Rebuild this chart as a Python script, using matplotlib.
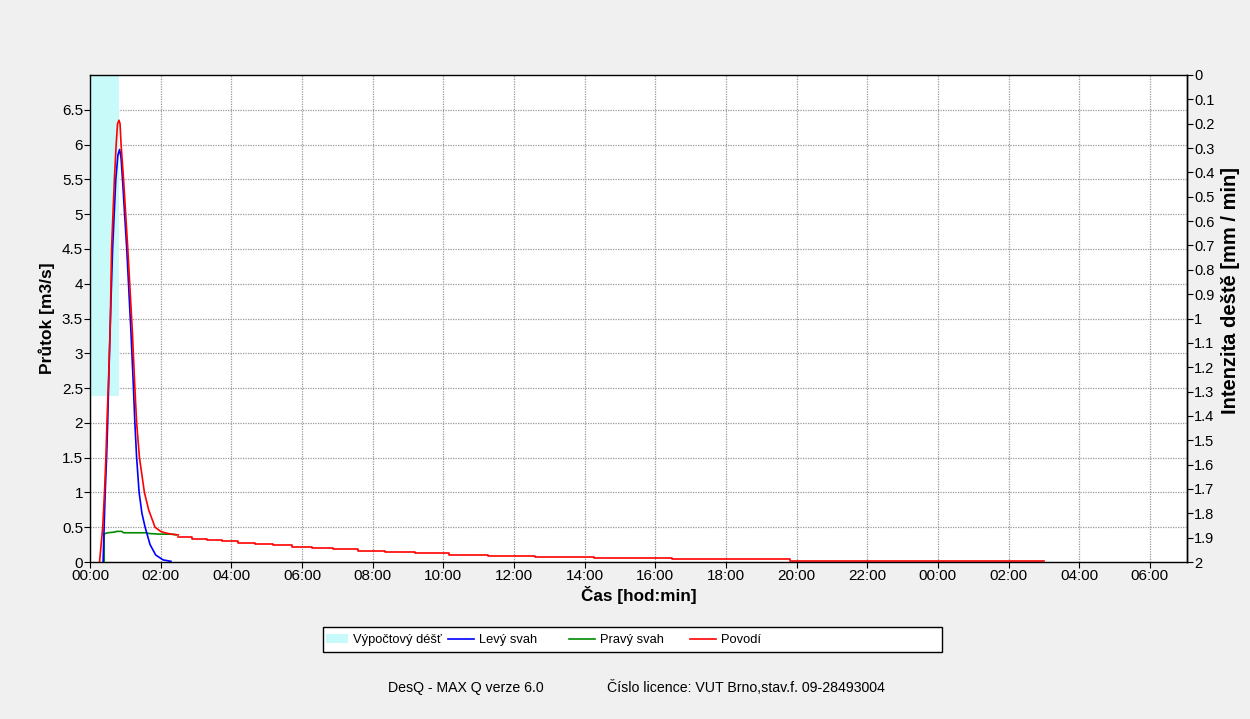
import matplotlib
matplotlib.use("Agg")
import matplotlib.pyplot as plt
from matplotlib.patches import Patch, Rectangle
from matplotlib.lines import Line2D
import numpy as np

plt.rcParams['font.family'] = ['Liberation Sans', 'DejaVu Sans']

# time in hours from 00:00
rain_t = [0.0, 0.83]
rain_i = [1.32, 1.32]          # mm/min

levy_t = [0.37, 0.40, 0.43, 0.47, 0.50, 0.53, 0.56, 0.64, 0.73, 0.79, 0.84, 0.88,
          0.92, 1.04, 1.16, 1.23, 1.27, 1.32, 1.39, 1.47, 1.56, 1.70, 1.86, 2.07, 2.29]
levy_q = [0.0, 0.5, 1.0, 1.5, 2.0, 2.6, 3.2, 4.5, 5.5, 5.85, 5.93, 5.8,
          5.5, 4.5, 3.3, 2.5, 2.0, 1.5, 1.0, 0.7, 0.5, 0.25, 0.1, 0.03, 0.01]

pravy_t = [0.40, 0.40, 0.43, 0.50, 0.70, 0.75, 0.90, 0.95, 1.60, 1.65, 2.00, 2.30, 2.45]
pravy_q = [0.0, 0.40, 0.41, 0.42, 0.43, 0.44, 0.44, 0.42, 0.42, 0.41, 0.40, 0.40, 0.39]

povodi_t = [0.27, 0.36, 0.41, 0.45, 0.48, 0.53, 0.57, 0.61, 0.69, 0.74, 0.78, 0.82,
            0.85, 0.88, 0.95, 1.07, 1.20, 1.27, 1.32, 1.40, 1.54, 1.66, 1.84, 2.00,
            2.12, 2.30, 2.50]
povodi_q = [0.0, 0.5, 1.0, 1.5, 2.0, 2.7, 3.3, 4.5, 5.5, 6.0, 6.3, 6.35,
            6.3, 6.0, 5.5, 4.5, 3.3, 2.5, 2.0, 1.5, 1.0, 0.75, 0.5, 0.44,
            0.42, 0.40, 0.39]

# stepped tail of the catchment hydrograph
tail_t = [2.50, 2.88, 3.30, 3.73, 4.20, 4.67, 5.19, 5.71, 6.27, 6.89, 7.59, 8.35,
          9.20, 10.17, 11.27, 12.60, 14.27, 16.46, 19.81, 27.0]
tail_q = [0.365, 0.335, 0.315, 0.295, 0.28, 0.26, 0.24, 0.22, 0.20, 0.18, 0.16, 0.145,
          0.128, 0.105, 0.088, 0.07, 0.054, 0.036, 0.02, 0.02]

x_ticks = list(range(0, 31, 2))
x_labels = ["%02d:00" % (h % 24) for h in x_ticks]
y_ticks = [i * 0.5 for i in range(14)]
r_ticks = [i / 10 for i in range(21)]

Q_MAX = 7.0
R_MAX = 2.0


def q_to_r(q):
    return R_MAX - np.asarray(q) * R_MAX / Q_MAX


def r_to_q(r):
    return (R_MAX - np.asarray(r)) * Q_MAX / R_MAX


fig = plt.figure(figsize=(12.5, 7.19), dpi=100, facecolor='#f0f0f0')
ax = fig.add_axes([90 / 1250, 1 - 562 / 719, 1097 / 1250, 487 / 719])
ax.set_facecolor('white')

rain_col = '#c8fafa'
blue = '#0000ff'
green = '#008a00'
red = '#ff0000'

ax.fill_between(rain_t, r_to_q(0), r_to_q(rain_i), color=rain_col, lw=0, zorder=2)

ax.plot(levy_t, levy_q, color=blue, lw=1.2, zorder=4)
ax.plot(pravy_t, pravy_q, color=green, lw=1.2, zorder=3)
ax.plot(povodi_t, povodi_q, color=red, lw=1.2, zorder=5)
ax.step(tail_t, tail_q, where='post', color=red, lw=1.2, zorder=5)

ax.set_xlim(0, 31.05)
ax.set_ylim(0, Q_MAX)
ax.set_xticks(x_ticks)
ax.set_xticklabels(x_labels)
ax.set_yticks(y_ticks)
ax.set_yticklabels(["%g" % v for v in y_ticks])
ax.grid(True, color='#999999', linestyle=(0, (1, 1)), lw=0.9, zorder=1)
ax.set_axisbelow(True)
ax.tick_params(labelsize=11, length=4, width=0.8, pad=1)
for s in ax.spines.values():
    s.set_color('black')
    s.set_linewidth(1.0)
    s.set_zorder(6)

sec = ax.secondary_yaxis('right', functions=(q_to_r, r_to_q))
sec.set_yticks(r_ticks)
sec.set_yticklabels(["%g" % v for v in r_ticks])
sec.tick_params(labelsize=10.5, length=4, width=0.8, pad=1)
sec.spines['right'].set_linewidth(1.0)
sec.set_ylabel("Intenzita deště [mm / min]", fontsize=14.5, fontweight='bold')
sec.yaxis.set_label_coords(1221 / 1250, 1 - 290 / 719, transform=fig.transFigure)

ax.set_ylabel("Průtok [m3/s]", fontsize=12.5, fontweight='bold', labelpad=5)
ax.set_xlabel("Čas [hod:min]", fontsize=12.3, fontweight='bold', labelpad=2)

# legend box with four evenly placed entries
fig.patches.append(Rectangle((323 / 1250, 1 - 652 / 719), 619 / 1250, 25 / 719,
                             transform=fig.transFigure, facecolor='white',
                             edgecolor='black', lw=1.0, zorder=1))
entries = [(Patch(facecolor=rain_col, edgecolor='none'), "Výpočtový déšť", 326, 1.7),
           (Line2D([], [], color=blue, lw=1.2), "Levý svah", 448, 2.0),
           (Line2D([], [], color=green, lw=1.2), "Pravý svah", 569, 2.0),
           (Line2D([], [], color=red, lw=1.2), "Povodí", 690, 2.0)]
for h, lab, x0, hl in entries:
    fig.legend([h], [lab], loc='upper left',
               bbox_to_anchor=(x0 / 1250, 1 - 634 / 719),
               fontsize=9.3, frameon=False, borderpad=0, borderaxespad=0,
               handlelength=hl, handletextpad=0.4)

fig.text(466 / 1250, 1 - 688 / 719, "DesQ - MAX Q verze 6.0", fontsize=10.2,
         ha='center', va='center')
fig.text(607 / 1250, 1 - 688 / 719, "Číslo licence: VUT Brno,stav.f. 09-28493004",
         fontsize=10.2, ha='left', va='center')

fig.savefig("out.png", dpi=100, facecolor=fig.get_facecolor())
